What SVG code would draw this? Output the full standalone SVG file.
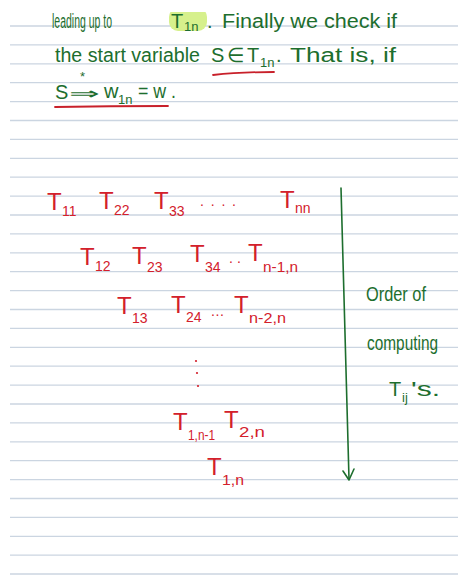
<svg xmlns="http://www.w3.org/2000/svg" width="458" height="575" viewBox="0 0 458 575">
<defs>
<style>
.rule{stroke:#cbd5e1;stroke-width:1.3}
.g{fill:#1d6e2e;font-family:"Liberation Sans",Arial,sans-serif;font-size:20px}
.gs{font-size:13px}
.r{fill:#d3202b;font-family:"Liberation Sans",Arial,sans-serif;font-size:24px}
.rs{font-size:14px}
.ul{stroke:#c8202a;stroke-width:1.8;fill:none;stroke-linecap:round}
.conn{stroke:#1d6e2e;stroke-width:1.6;fill:none;stroke-linecap:round;stroke-linejoin:round}
</style>
<clipPath id="topclip"><rect x="0" y="12" width="458" height="563"/></clipPath>
</defs>
<rect width="458" height="575" fill="#ffffff"/>
<g id="rules">
<line class="rule" x1="10" y1="26" x2="458" y2="26"/>
<line class="rule" x1="10" y1="44.9" x2="458" y2="44.9"/>
<line class="rule" x1="10" y1="63.8" x2="458" y2="63.8"/>
<line class="rule" x1="10" y1="82.7" x2="458" y2="82.7"/>
<line class="rule" x1="10" y1="101.6" x2="458" y2="101.6"/>
<line class="rule" x1="10" y1="120.5" x2="458" y2="120.5"/>
<line class="rule" x1="10" y1="139.4" x2="458" y2="139.4"/>
<line class="rule" x1="10" y1="158.3" x2="458" y2="158.3"/>
<line class="rule" x1="10" y1="177.2" x2="458" y2="177.2"/>
<line class="rule" x1="10" y1="196.1" x2="458" y2="196.1"/>
<line class="rule" x1="10" y1="215" x2="458" y2="215"/>
<line class="rule" x1="10" y1="233.9" x2="458" y2="233.9"/>
<line class="rule" x1="10" y1="252.8" x2="458" y2="252.8"/>
<line class="rule" x1="10" y1="271.7" x2="458" y2="271.7"/>
<line class="rule" x1="10" y1="290.6" x2="458" y2="290.6"/>
<line class="rule" x1="10" y1="309.5" x2="458" y2="309.5"/>
<line class="rule" x1="10" y1="328.4" x2="458" y2="328.4"/>
<line class="rule" x1="10" y1="347.3" x2="458" y2="347.3"/>
<line class="rule" x1="10" y1="366.2" x2="458" y2="366.2"/>
<line class="rule" x1="10" y1="385.1" x2="458" y2="385.1"/>
<line class="rule" x1="10" y1="404" x2="458" y2="404"/>
<line class="rule" x1="10" y1="422.9" x2="458" y2="422.9"/>
<line class="rule" x1="10" y1="441.8" x2="458" y2="441.8"/>
<line class="rule" x1="10" y1="460.7" x2="458" y2="460.7"/>
<line class="rule" x1="10" y1="479.6" x2="458" y2="479.6"/>
<line class="rule" x1="10" y1="498.5" x2="458" y2="498.5"/>
<line class="rule" x1="10" y1="517.4" x2="458" y2="517.4"/>
<line class="rule" x1="10" y1="536.3" x2="458" y2="536.3"/>
<line class="rule" x1="10" y1="555.2" x2="458" y2="555.2"/>
<line class="rule" x1="10" y1="574" x2="458" y2="574"/>
</g>
<g id="notes" clip-path="url(#topclip)">
<rect x="169" y="8" width="38" height="23" rx="9" fill="#d6f08c"/>
<text class="g" x="52" y="28" textLength="60" lengthAdjust="spacingAndGlyphs">leading up to</text>
<text class="g" x="171" y="28">T<tspan class="gs" x="184" y="31">1n</tspan></text>
<text class="g" x="207" y="28">.</text>
<text class="g" x="222" y="28" textLength="175" lengthAdjust="spacingAndGlyphs">Finally we check if</text>
<text class="g" x="55" y="62" textLength="145" lengthAdjust="spacingAndGlyphs">the start variable</text>
<text class="g" x="211" y="62">S</text>
<text class="g" x="227" y="62">∈</text>
<text class="g" x="247" y="62">T</text>
<text class="g gs" x="260" y="67">1n</text>
<text class="g" x="276" y="62">.</text>
<text class="g" x="290" y="62" textLength="106" lengthAdjust="spacingAndGlyphs">That is, if</text>
<path class="ul" d="M213 75 Q240 72 274 72"/>
<text class="g" x="55" y="99">S</text>
<text class="g" x="69" y="99" textLength="30" lengthAdjust="spacingAndGlyphs" style="font-size:16px">⇒</text>
<text class="g gs" x="80" y="81">*</text>
<text class="g" x="104" y="98">w</text>
<text class="g gs" x="118" y="104">1n</text>
<text class="g" x="138" y="98" textLength="38" lengthAdjust="spacingAndGlyphs">= w .</text>
<path class="ul" d="M55 107 Q110 106 168 106"/>
<text class="g" x="366" y="301" textLength="60" lengthAdjust="spacingAndGlyphs">Order of</text>
<text class="g" x="367" y="350" textLength="71" lengthAdjust="spacingAndGlyphs">computing</text>
<text class="g" x="389" y="396">T</text>
<text class="g gs" x="402" y="402">ij</text>
<text class="g" x="411" y="396" textLength="29" lengthAdjust="spacingAndGlyphs">'s.</text>
</g>
<g id="connectors">
<path class="conn" d="M341 188 L349 479"/>
<path class="conn" d="M343 471 L349 480 L354 469"/>
</g>
<g id="T11"><text class="r" x="47" y="210">T<tspan class="rs" x="62" y="216">11</tspan></text></g>
<g id="T22"><text class="r" x="99" y="209">T<tspan class="rs" x="114" y="215">22</tspan></text></g>
<g id="T33"><text class="r" x="154" y="209">T<tspan class="rs" x="169" y="216">33</tspan></text></g>
<g id="dots1"><text class="r rs" x="200" y="206" textLength="36" lengthAdjust="spacing">. . . .</text></g>
<g id="Tnn"><text class="r" x="280" y="208">T<tspan class="rs" x="295" y="213">nn</tspan></text></g>
<g id="T12"><text class="r" x="80" y="265">T<tspan class="rs" x="95" y="271">12</tspan></text></g>
<g id="T23"><text class="r" x="132" y="264">T<tspan class="rs" x="147" y="272">23</tspan></text></g>
<g id="T34"><text class="r" x="190" y="262">T<tspan class="rs" x="205" y="272">34</tspan></text></g>
<g id="dots2"><text class="r rs" x="229" y="263" textLength="12" lengthAdjust="spacing">. .</text></g>
<g id="Tn-1n"><text class="r" x="248" y="261">T<tspan class="rs" x="263" y="272" textLength="35" lengthAdjust="spacingAndGlyphs">n-1,n</tspan></text></g>
<g id="T13"><text class="r" x="117" y="314">T<tspan class="rs" x="132" y="323">13</tspan></text></g>
<g id="T24"><text class="r" x="171" y="313">T<tspan class="rs" x="186" y="322">24</tspan></text></g>
<g id="dots3"><text class="r rs" x="211" y="316" textLength="13" lengthAdjust="spacing">...</text></g>
<g id="Tn-2n"><text class="r" x="234" y="313">T<tspan class="rs" x="249" y="323" textLength="37" lengthAdjust="spacingAndGlyphs">n-2,n</tspan></text></g>
<g id="vdots" fill="#d3202b"><circle cx="196" cy="361" r="1.1"/><circle cx="197" cy="373" r="1.1"/><circle cx="198" cy="386" r="1.1"/></g>
<g id="T1n-1"><text class="r" x="173" y="430">T<tspan class="rs" x="188" y="440" textLength="27" lengthAdjust="spacingAndGlyphs">1,n-1</tspan></text></g>
<g id="T2n"><text class="r" x="224" y="428">T<tspan class="rs" x="239" y="437" textLength="26" lengthAdjust="spacingAndGlyphs">2,n</tspan></text></g>
<g id="T1n"><text class="r" x="207" y="475">T<tspan class="rs" x="222" y="485" textLength="22" lengthAdjust="spacingAndGlyphs">1,n</tspan></text></g>
</svg>
